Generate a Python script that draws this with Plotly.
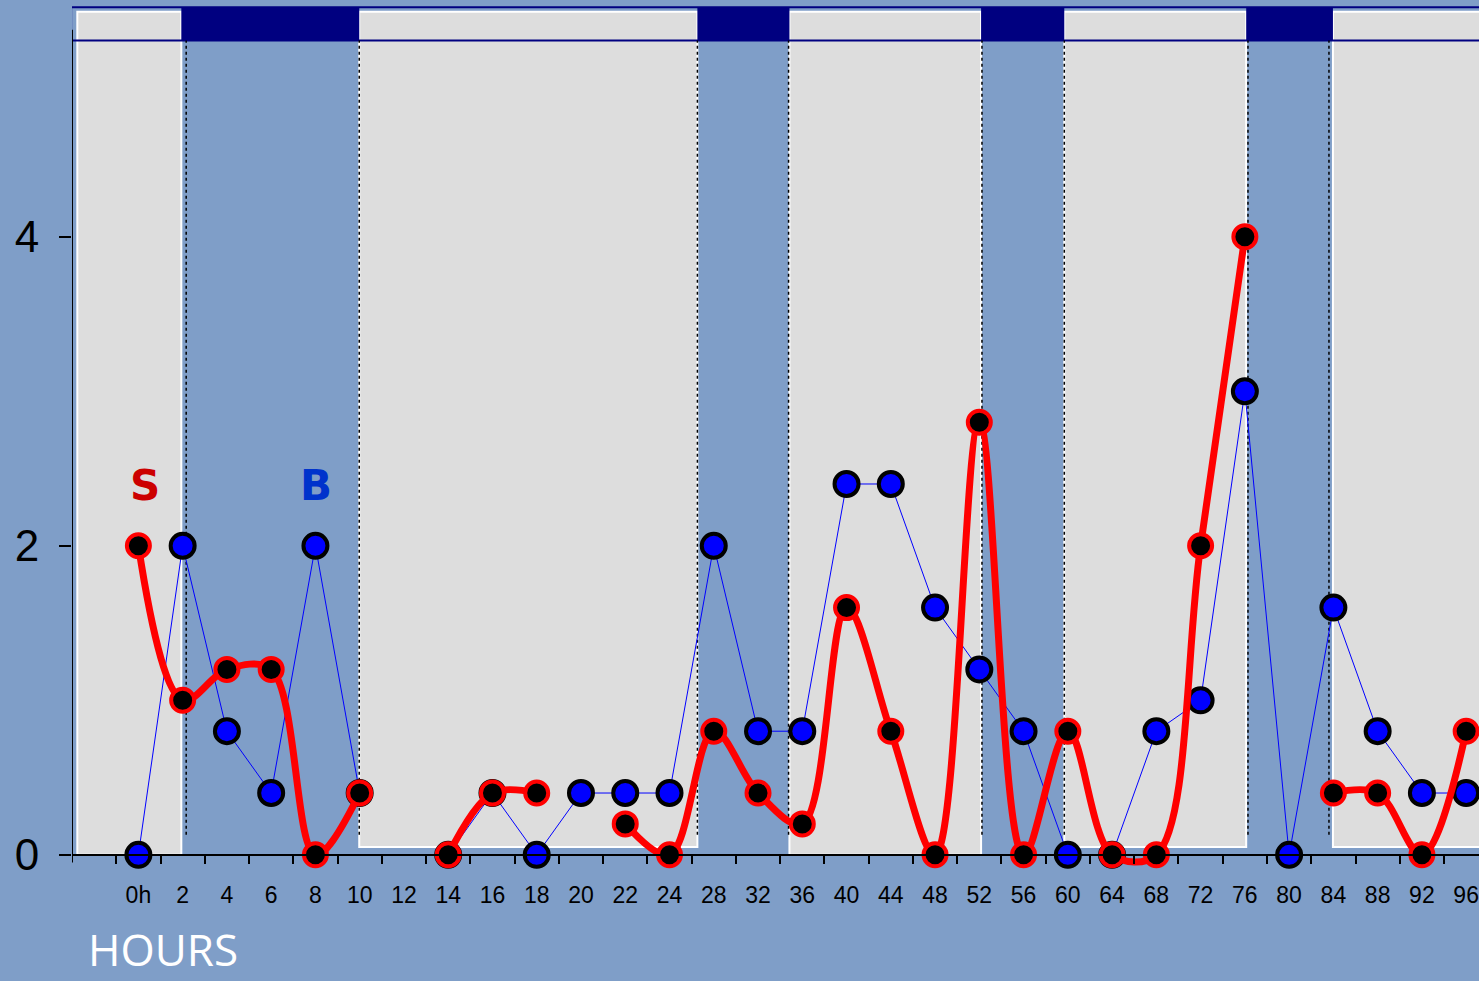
import plotly.graph_objects as go

# Sampling times (category axis)
hours = ["0h", "2", "4", "6", "8", "10", "12", "14", "16", "18", "20", "22", "24",
         "28", "32", "36", "40", "44", "48", "52", "56", "60", "64", "68", "72",
         "76", "80", "84", "88", "92", "96"]

# Series B (blue markers, thin line)
b_values = [0, 2.0, 0.8, 0.4, 2.0, 0.4, None, 0, 0.4, 0, 0.4, 0.4, 0.4,
            2.0, 0.8, 0.8, 2.4, 2.4, 1.6, 1.2, 0.8, 0, 0, 0.8, 1.0,
            3.0, 0, 1.6, 0.8, 0.4, 0.4]

# Series S (red smoothed line, black markers)
s_values = [2.0, 1.0, 1.2, 1.2, 0, 0.4, None, 0, 0.4, 0.4, None, 0.2, 0,
            0.8, 0.4, 0.2, 1.6, 0.8, 0, 2.8, 0, 0.8, 0, 0, 2.0,
            4.0, None, 0.4, 0.4, 0, 0.8]

y_ticks = [0, 2, 4]

# Light / dark periods as category-index spans
light_spans = [(-1.38, 0.97, 0.0), (4.99, 12.63, 0.05), (14.71, 19.04, 0.0),
               (20.92, 25.03, 0.05), (26.99, 31.5, 0.05)]
dark_spans = [(0.97, 4.99), (12.63, 14.71), (19.04, 20.92), (25.03, 26.99)]
dotted_at = [1.08, 4.99, 12.63, 14.69, 19.06, 20.92, 25.07, 26.9]

BG = "#7F9EC8"
GRAY = "#DDDDDD"
NAVY = "#000080"

X_MIN, X_MAX = -1.5, 30.29
Y_MIN, Y_MAX = -0.15, 5.5
BAND_LO, BAND_HI = 5.27, 5.485
LIGHT_TOP = 5.456

shapes = []
for x0, x1, yb in light_spans:
    shapes.append(dict(type="rect", xref="x", yref="y", x0=x0, x1=x1, y0=yb, y1=LIGHT_TOP,
                       fillcolor=GRAY, line=dict(color="white", width=2), layer="below"))
for x0, x1 in dark_spans:
    shapes.append(dict(type="rect", xref="x", yref="y", x0=x0, x1=x1, y0=BAND_LO, y1=BAND_HI,
                       fillcolor=NAVY, line=dict(width=0), layer="below"))
# band outline
shapes.append(dict(type="rect", xref="x", yref="y", x0=X_MIN - 0.02, x1=31.5, y0=BAND_LO, y1=BAND_HI,
                   fillcolor="rgba(0,0,0,0)", line=dict(color=NAVY, width=2), layer="below"))
for xd in dotted_at:
    shapes.append(dict(type="line", xref="x", yref="y", x0=xd, x1=xd, y0=0.13, y1=BAND_LO,
                       line=dict(color="black", width=1.5, dash="dot"), layer="below"))
# vertical axis line
shapes.append(dict(type="line", xref="x", yref="y", x0=X_MIN, x1=X_MIN, y0=-0.05, y1=5.34,
                   line=dict(color="black", width=2), layer="below"))

fig = go.Figure()

fig.add_trace(go.Scatter(
    x=hours, y=b_values, mode="lines+markers", name="B",
    line=dict(color="#0000FF", width=1),
    marker=dict(size=24, color="#0000FF", line=dict(color="black", width=4)),
    connectgaps=False, cliponaxis=False,
))

fig.add_trace(go.Scatter(
    x=hours, y=s_values, mode="lines+markers", name="S",
    line=dict(color="#FF0000", width=7, shape="spline", smoothing=1),
    marker=dict(size=23, color="black", line=dict(color="#FF0000", width=4)),
    connectgaps=False, cliponaxis=False,
))

fig.update_layout(
    width=1479, height=981,
    margin=dict(l=72, r=0, t=5, b=103),
    paper_bgcolor=BG, plot_bgcolor=BG,
    showlegend=False,
    shapes=shapes,
    xaxis=dict(
        type="category", range=[X_MIN, X_MAX],
        categoryorder="array", categoryarray=hours,
        anchor="free", position=(0 - Y_MIN) / (Y_MAX - Y_MIN),
        showline=True, linecolor="black", linewidth=2,
        showgrid=False, zeroline=False,
        ticks="outside", tickson="boundaries", ticklen=8, tickwidth=1.5, tickcolor="black",
        ticklabelstandoff=20,
        tickfont=dict(family="Liberation Sans, Arial, sans-serif", size=23, color="black"),
    ),
    yaxis=dict(
        range=[Y_MIN, Y_MAX], tickvals=y_ticks,
        showline=False, showgrid=False, zeroline=False,
        ticks="outside", ticklen=12, tickwidth=1.5, tickcolor="black",
        ticklabelstandoff=11,
        tickfont=dict(family="Liberation Sans, Arial, sans-serif", size=44, color="black"),
    ),
    annotations=[
        dict(text="<b>S</b>", x=0.16, y=2.39, xref="x", yref="y", showarrow=False,
             font=dict(family="DejaVu Sans", size=42, color="#CC0000")),
        dict(text="<b>B</b>", x=4.02, y=2.39, xref="x", yref="y", showarrow=False,
             font=dict(family="DejaVu Sans", size=42, color="#0033CC")),
        dict(text="HOURS", x=(163 - 72) / 1407, y=-0.117, xref="paper", yref="paper",
             showarrow=False, xanchor="center", yanchor="bottom", borderpad=0,
             font=dict(family="Open Sans", size=44, color="white")),
    ],
)

fig.write_html("out.html")
